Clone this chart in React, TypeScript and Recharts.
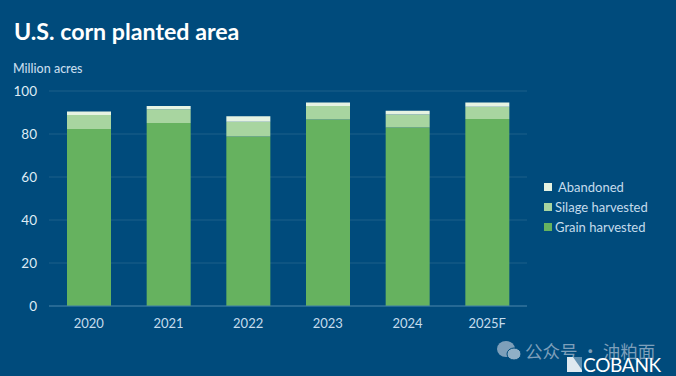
import React from 'react';
import { BarChart, Bar, XAxis, YAxis, CartesianGrid } from 'recharts';

const years = ['2020', '2021', '2022', '2023', '2024', '2025F'];
const grainHarvested = [82.3, 85.1, 78.8, 86.7, 83, 87];
const silageHarvested = [6.5, 6.4, 6.9, 6.3, 6.1, 5.7];
const abandoned = [1.7, 1.5, 2.5, 1.7, 1.7, 1.9];
const yTicks = [0, 20, 40, 60, 80, 100];

const legendItems = [
  { name: 'Abandoned', color: '#e6f3e2', gap: 6 },
  { name: 'Silage harvested', color: '#a8d5a0', gap: 3 },
  { name: 'Grain harvested', color: '#66b25f', gap: 3 },
];

const data = years.map((year, i) => ({
  year,
  grain: grainHarvested[i],
  silage: silageHarvested[i],
  abandoned: abandoned[i],
}));

const FONT = 'Lato, sans-serif';

// Legend reads top to bottom in reverse stack order
const ChartLegend = () => (
  <div style={{ position: 'absolute', left: 544, top: 177, fontFamily: FONT, fontSize: 13, color: '#c5dcec' }}>
    {legendItems.map(item => (
      <div key={item.name} style={{ display: 'flex', alignItems: 'center', height: 20 }}>
        <span style={{ width: 8, height: 8, background: item.color, marginRight: item.gap }} />
        {item.name}
      </div>
    ))}
  </div>
);

// WeChat-style watermark in the lower right corner
const Watermark = () => (
  <div style={{ position: 'absolute', left: 496, top: 338, width: 170, height: 24 }}>
    <svg width={26} height={22} style={{ position: 'absolute', left: 0, top: 2 }}>
      <ellipse cx={10} cy={9} rx={9} ry={8} fill="#7d9fba" />
      <ellipse cx={18} cy={14} rx={7} ry={6} fill="#8fafc6" stroke="#004b7c" />
    </svg>
    <span style={{
      position: 'absolute', left: 29, top: 0, whiteSpace: 'nowrap',
      fontFamily: '"Noto Sans CJK SC"', fontSize: 17.5, color: '#7d9fba',
    }}>
      公众号 · 油粕面
    </span>
  </div>
);

const App: React.FC = () => (
  <div style={{ position: 'absolute', left: 0, top: 0, width: 676, height: 376, background: '#004b7c', overflow: 'hidden' }}>
    <div style={{ position: 'absolute', left: 14, top: 17, fontFamily: FONT, fontSize: 23.2, fontWeight: 700, color: '#fff', whiteSpace: 'nowrap' }}>
      U.S. corn planted area
    </div>
    <div style={{ position: 'absolute', left: 13, top: 61, fontFamily: FONT, fontSize: 12.5, fontWeight: 500, color: '#c5dcec', whiteSpace: 'nowrap' }}>
      Million acres
    </div>
    <BarChart
      width={676}
      height={376}
      data={data}
      margin={{ top: 91, right: 149, bottom: 40, left: 0 }}
      style={{ position: 'absolute', left: 0, top: 0 }}
    >
      <CartesianGrid horizontal vertical={false} stroke="#1d6089" strokeWidth={1} />
      <XAxis
        dataKey="year"
        height={30}
        tickLine={false}
        axisLine={{ stroke: '#3f7ea6', strokeWidth: 1 }}
        tick={{ fill: '#c5dcec', fontSize: 13, fontFamily: FONT }}
        tickMargin={7}
      />
      <YAxis
        width={49}
        domain={[0, 100]}
        ticks={yTicks}
        tickLine={false}
        axisLine={false}
        tick={{ fill: '#dfecf5', fontSize: 13.5, fontFamily: FONT }}
        tickMargin={6}
      />
      <Bar dataKey="grain" name="Grain harvested" stackId="area" fill="#66b25f" barSize={44} isAnimationActive={false} />
      <Bar dataKey="silage" name="Silage harvested" stackId="area" fill="#a8d5a0" barSize={44} isAnimationActive={false} />
      <Bar dataKey="abandoned" name="Abandoned" stackId="area" fill="#e6f3e2" barSize={44} isAnimationActive={false} />
    </BarChart>
    <ChartLegend />
    <Watermark />
    <div style={{ position: 'absolute', left: 567, top: 355, display: 'flex', alignItems: 'center' }}>
      <svg width={15} height={15}>
        <path d="M0 0 H15 V15 H0 Z" fill="#dfe9f0" />
        <path d="M6 0 H15 V13 Z" fill="#5f8fb0" />
      </svg>
      <span style={{ fontFamily: FONT, fontSize: 19, color: '#fff', marginLeft: 1, lineHeight: '19px', letterSpacing: -0.3 }}>COBANK</span>
    </div>
  </div>
);

export default App;
